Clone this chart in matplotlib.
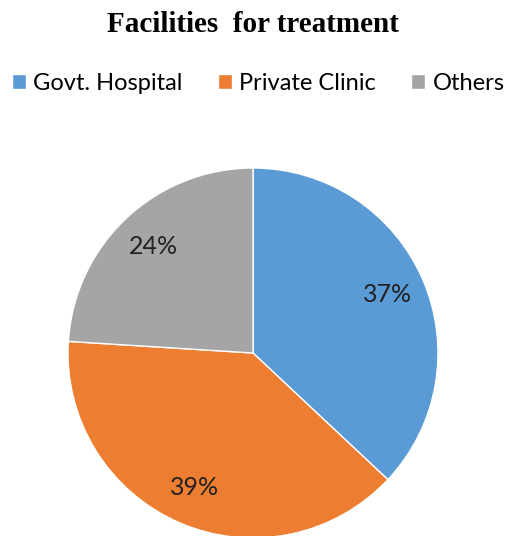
import matplotlib.pyplot as plt

categories = ["Govt. Hospital", "Private Clinic", "Others"]
shares = [37, 39, 24]
colours = ["#5B9BD5", "#ED7D31", "#A5A5A5"]

W, H = 506, 536
fig = plt.figure(figsize=(W / 100, H / 100), dpi=100)

# pie centre (253, 353) px, radius 185 px
cx, cy, r = 253, 353, 185
ax = fig.add_axes([(cx - r) / W, (H - cy - r) / H, 2 * r / W, 2 * r / H])
wedges, _, autotexts = ax.pie(
    shares,
    colors=colours,
    startangle=90,
    counterclock=False,
    radius=1,
    autopct="%d%%",
    pctdistance=0.79,
    wedgeprops=dict(edgecolor="white", linewidth=1),
    textprops=dict(family="Lato", fontsize=18, color="#222222"),
)
ax.set_xlim(-1, 1)
ax.set_ylim(-1, 1)
ax.set_aspect("equal")
ax.axis("off")

fig.text(0.5, 1 - 24 / H, "Facilities  for treatment", ha="center", va="center",
         family="Liberation Serif", fontweight="bold", fontsize=21)

fig.legend(wedges, categories, loc="center", bbox_to_anchor=(0.51, 1 - 83 / H),
           ncol=3, frameon=False, handlelength=0.6, handleheight=0.6,
           handletextpad=0.3, columnspacing=1.5,
           prop=dict(family="Lato", size=17))

fig.savefig("out.png", dpi=100)
